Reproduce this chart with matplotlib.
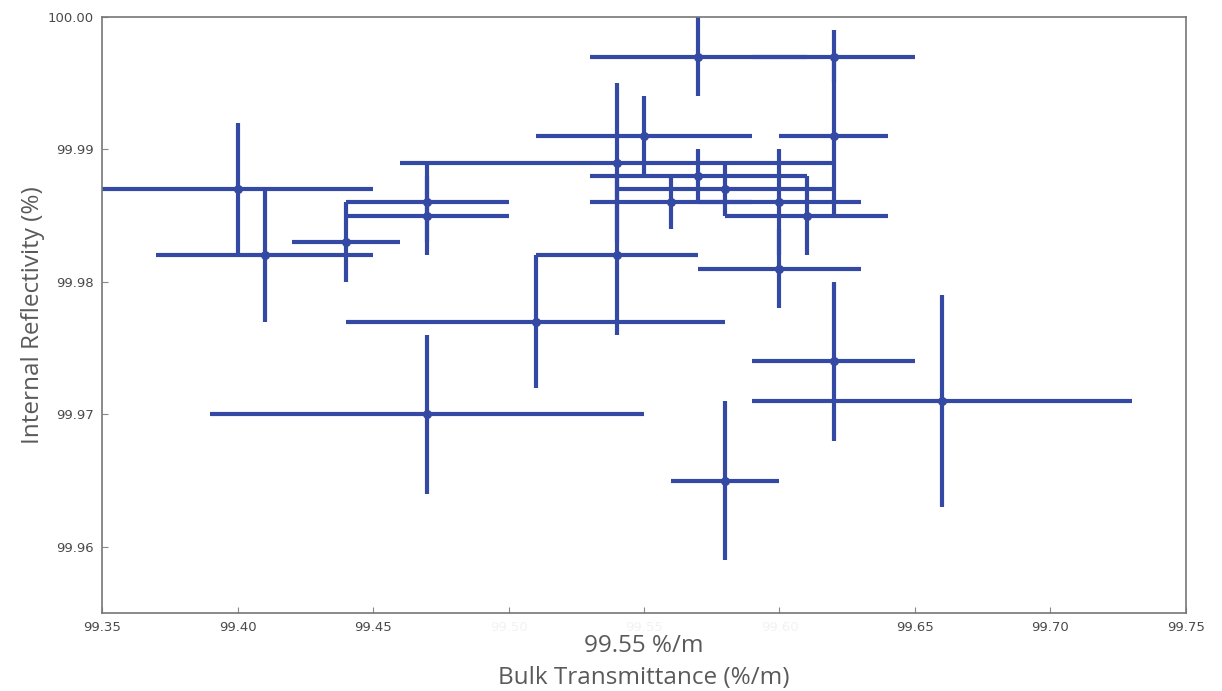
import matplotlib
matplotlib.use("Agg")
import matplotlib.pyplot as plt

# data
transmittance = [99.40, 99.41, 99.44, 99.47, 99.47, 99.47, 99.51, 99.54, 99.54, 99.55, 99.57,
                 99.62, 99.62, 99.57, 99.56, 99.60, 99.60, 99.58, 99.61, 99.62, 99.66, 99.58]
reflectivity = [99.987, 99.982, 99.983, 99.986, 99.985, 99.970, 99.977, 99.989, 99.982, 99.991, 99.997,
                99.997, 99.991, 99.988, 99.986, 99.986, 99.981, 99.987, 99.985, 99.974, 99.971, 99.965]
trans_err = [0.05, 0.04, 0.02, 0.03, 0.03, 0.08, 0.07, 0.08, 0.03, 0.04, 0.04,
             0.03, 0.02, 0.04, 0.03, 0.03, 0.03, 0.04, 0.03, 0.03, 0.07, 0.02]
refl_err = [0.005, 0.005, 0.003, 0.003, 0.003, 0.006, 0.005, 0.006, 0.006, 0.003, 0.003,
            0.002, 0.006, 0.002, 0.002, 0.004, 0.003, 0.002, 0.003, 0.006, 0.008, 0.006]

x_ticks = [99.35, 99.40, 99.45, 99.50, 99.55, 99.60, 99.65, 99.70, 99.75]
y_ticks = [99.96, 99.97, 99.98, 99.99, 100.00]
faded_ticks = [99.50, 99.55, 99.60]

blue = "#3349a3"
grey = "#5a5a5a"

fig = plt.figure(figsize=(12.22, 6.91), dpi=100)
ax = fig.add_axes([0.0835, 0.1129, 0.887, 0.8625])

ax.errorbar(transmittance, reflectivity, xerr=trans_err, yerr=refl_err,
            fmt="o", color=blue, ecolor=blue, elinewidth=3, capsize=0,
            markersize=6.5, markeredgewidth=0)

ax.set_xlim(99.35, 99.75)
ax.set_ylim(99.955, 100.00)
ax.set_xticks(x_ticks)
ax.set_xticklabels([f"{t:.2f}" for t in x_ticks])
ax.set_yticks(y_ticks)
ax.set_yticklabels([f"{t:.2f}" for t in y_ticks])

ax.tick_params(direction="in", length=4, width=0.8, colors="#888888",
               labelcolor="#4a4a4a", labelsize=9.5, pad=6)
# the middle tick labels are almost blanked out in the original
for lab, t in zip(ax.get_xticklabels(), x_ticks):
    if t in faded_ticks:
        lab.set_color("#f2f2f2")
for sp in ax.spines.values():
    sp.set_color("#777777")
    sp.set_linewidth(1.2)

ax.set_ylabel("Internal Reflectivity (%)", family="Open Sans", fontsize=17.5,
              color=grey, labelpad=2)
ax.set_xlabel("99.55 %/m\nBulk Transmittance (%/m)", family="Open Sans", fontsize=17.5,
              color=grey, labelpad=0, linespacing=1.45)

fig.savefig("out.png", dpi=100)
